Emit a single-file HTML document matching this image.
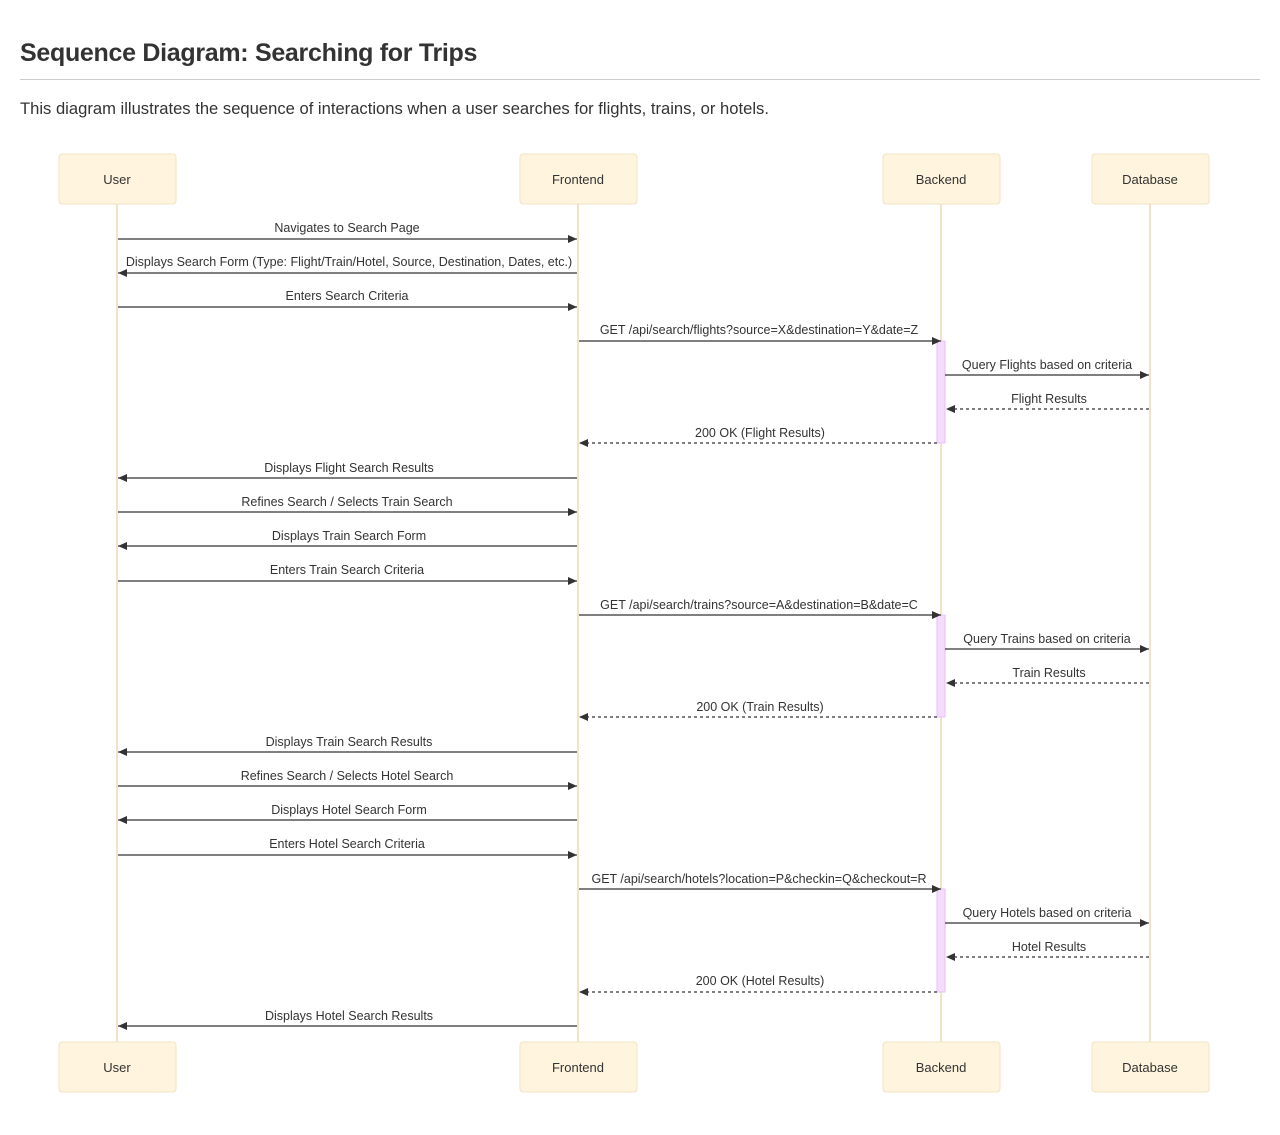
<!DOCTYPE html>
<html><head><meta charset="utf-8"><style>
body{margin:0;background:#fff;font-family:"Liberation Sans",sans-serif;color:#333;}
h1{position:absolute;left:20px;top:39px;margin:0;font-size:25px;font-weight:bold;color:#333;letter-spacing:-0.3px}
.hr{position:absolute;left:20px;top:79px;width:1240px;height:1px;background:#ccc}
p{position:absolute;left:20px;top:99px;margin:0;font-size:16.6px;color:#333}
svg{position:absolute;left:0;top:0}
</style></head><body>
<h1>Sequence Diagram: Searching for Trips</h1>
<div class="hr"></div>
<p>This diagram illustrates the sequence of interactions when a user searches for flights, trains, or hotels.</p>
<svg width="1280" height="1135" font-family="Liberation Sans, sans-serif" font-size="12.5" fill="#333">
<defs><marker id="a" markerWidth="10" markerHeight="10" refX="9" refY="5" orient="auto" markerUnits="userSpaceOnUse"><path d="M0,1 L9,5 L0,9z" fill="#333"/></marker></defs>
<g stroke="#f2e3c6" stroke-width="2">
<line x1="117" y1="204" x2="117" y2="1042"/><line x1="578" y1="204" x2="578" y2="1042"/><line x1="941" y1="204" x2="941" y2="1042"/><line x1="1150" y1="204" x2="1150" y2="1042"/>
</g>
<g fill="#fff4dd" stroke="#f2e3c6">
<rect x="59" y="154" width="117" height="50" rx="3"/><rect x="520" y="154" width="117" height="50" rx="3"/><rect x="883" y="154" width="117" height="50" rx="3"/><rect x="1092" y="154" width="117" height="50" rx="3"/>
<rect x="59" y="1042" width="117" height="50" rx="3"/><rect x="520" y="1042" width="117" height="50" rx="3"/><rect x="883" y="1042" width="117" height="50" rx="3"/><rect x="1092" y="1042" width="117" height="50" rx="3"/>
</g>
<g text-anchor="middle" font-size="13">
<text x="117" y="184">User</text><text x="578" y="184">Frontend</text><text x="941" y="184">Backend</text><text x="1150" y="184">Database</text>
<text x="117" y="1072">User</text><text x="578" y="1072">Frontend</text><text x="941" y="1072">Backend</text><text x="1150" y="1072">Database</text>
</g>
<g fill="#f4dcfc" stroke="#e6c1f7">
<rect x="937" y="341" width="8" height="102"/><rect x="937" y="615" width="8" height="102"/><rect x="937" y="889" width="8" height="103"/>
</g>
<g stroke="#333" stroke-width="1.3" marker-end="url(#a)">
<line x1="118" y1="239" x2="577" y2="239"/>
<line x1="577" y1="273" x2="118" y2="273"/>
<line x1="118" y1="307" x2="577" y2="307"/>
<line x1="579" y1="341" x2="941" y2="341"/>
<line x1="945" y1="375" x2="1149" y2="375"/>
<line x1="1149" y1="409" x2="946" y2="409" stroke-dasharray="3,3"/>
<line x1="937" y1="443" x2="579" y2="443" stroke-dasharray="3,3"/>
<line x1="577" y1="478" x2="118" y2="478"/>
<line x1="118" y1="512" x2="577" y2="512"/>
<line x1="577" y1="546" x2="118" y2="546"/>
<line x1="118" y1="581" x2="577" y2="581"/>
<line x1="579" y1="615" x2="941" y2="615"/>
<line x1="945" y1="649" x2="1149" y2="649"/>
<line x1="1149" y1="683" x2="946" y2="683" stroke-dasharray="3,3"/>
<line x1="937" y1="717" x2="579" y2="717" stroke-dasharray="3,3"/>
<line x1="577" y1="752" x2="118" y2="752"/>
<line x1="118" y1="786" x2="577" y2="786"/>
<line x1="577" y1="820" x2="118" y2="820"/>
<line x1="118" y1="855" x2="577" y2="855"/>
<line x1="579" y1="889" x2="941" y2="889"/>
<line x1="945" y1="923" x2="1149" y2="923"/>
<line x1="1149" y1="957" x2="946" y2="957" stroke-dasharray="3,3"/>
<line x1="937" y1="992" x2="579" y2="992" stroke-dasharray="3,3"/>
<line x1="577" y1="1026" x2="118" y2="1026"/>
</g>
<g text-anchor="middle">
<text x="347" y="232">Navigates to Search Page</text>
<text x="349" y="266">Displays Search Form (Type: Flight/Train/Hotel, Source, Destination, Dates, etc.)</text>
<text x="347" y="300">Enters Search Criteria</text>
<text x="759" y="334">GET /api/search/flights?source=X&amp;destination=Y&amp;date=Z</text>
<text x="1047" y="369">Query Flights based on criteria</text>
<text x="1049" y="403">Flight Results</text>
<text x="760" y="437">200 OK (Flight Results)</text>
<text x="349" y="472">Displays Flight Search Results</text>
<text x="347" y="506">Refines Search / Selects Train Search</text>
<text x="349" y="540">Displays Train Search Form</text>
<text x="347" y="574">Enters Train Search Criteria</text>
<text x="759" y="609">GET /api/search/trains?source=A&amp;destination=B&amp;date=C</text>
<text x="1047" y="643">Query Trains based on criteria</text>
<text x="1049" y="677">Train Results</text>
<text x="760" y="711">200 OK (Train Results)</text>
<text x="349" y="746">Displays Train Search Results</text>
<text x="347" y="780">Refines Search / Selects Hotel Search</text>
<text x="349" y="814">Displays Hotel Search Form</text>
<text x="347" y="848">Enters Hotel Search Criteria</text>
<text x="759" y="883">GET /api/search/hotels?location=P&amp;checkin=Q&amp;checkout=R</text>
<text x="1047" y="917">Query Hotels based on criteria</text>
<text x="1049" y="951">Hotel Results</text>
<text x="760" y="985">200 OK (Hotel Results)</text>
<text x="349" y="1020">Displays Hotel Search Results</text>
</g>
</svg>
</body></html>
